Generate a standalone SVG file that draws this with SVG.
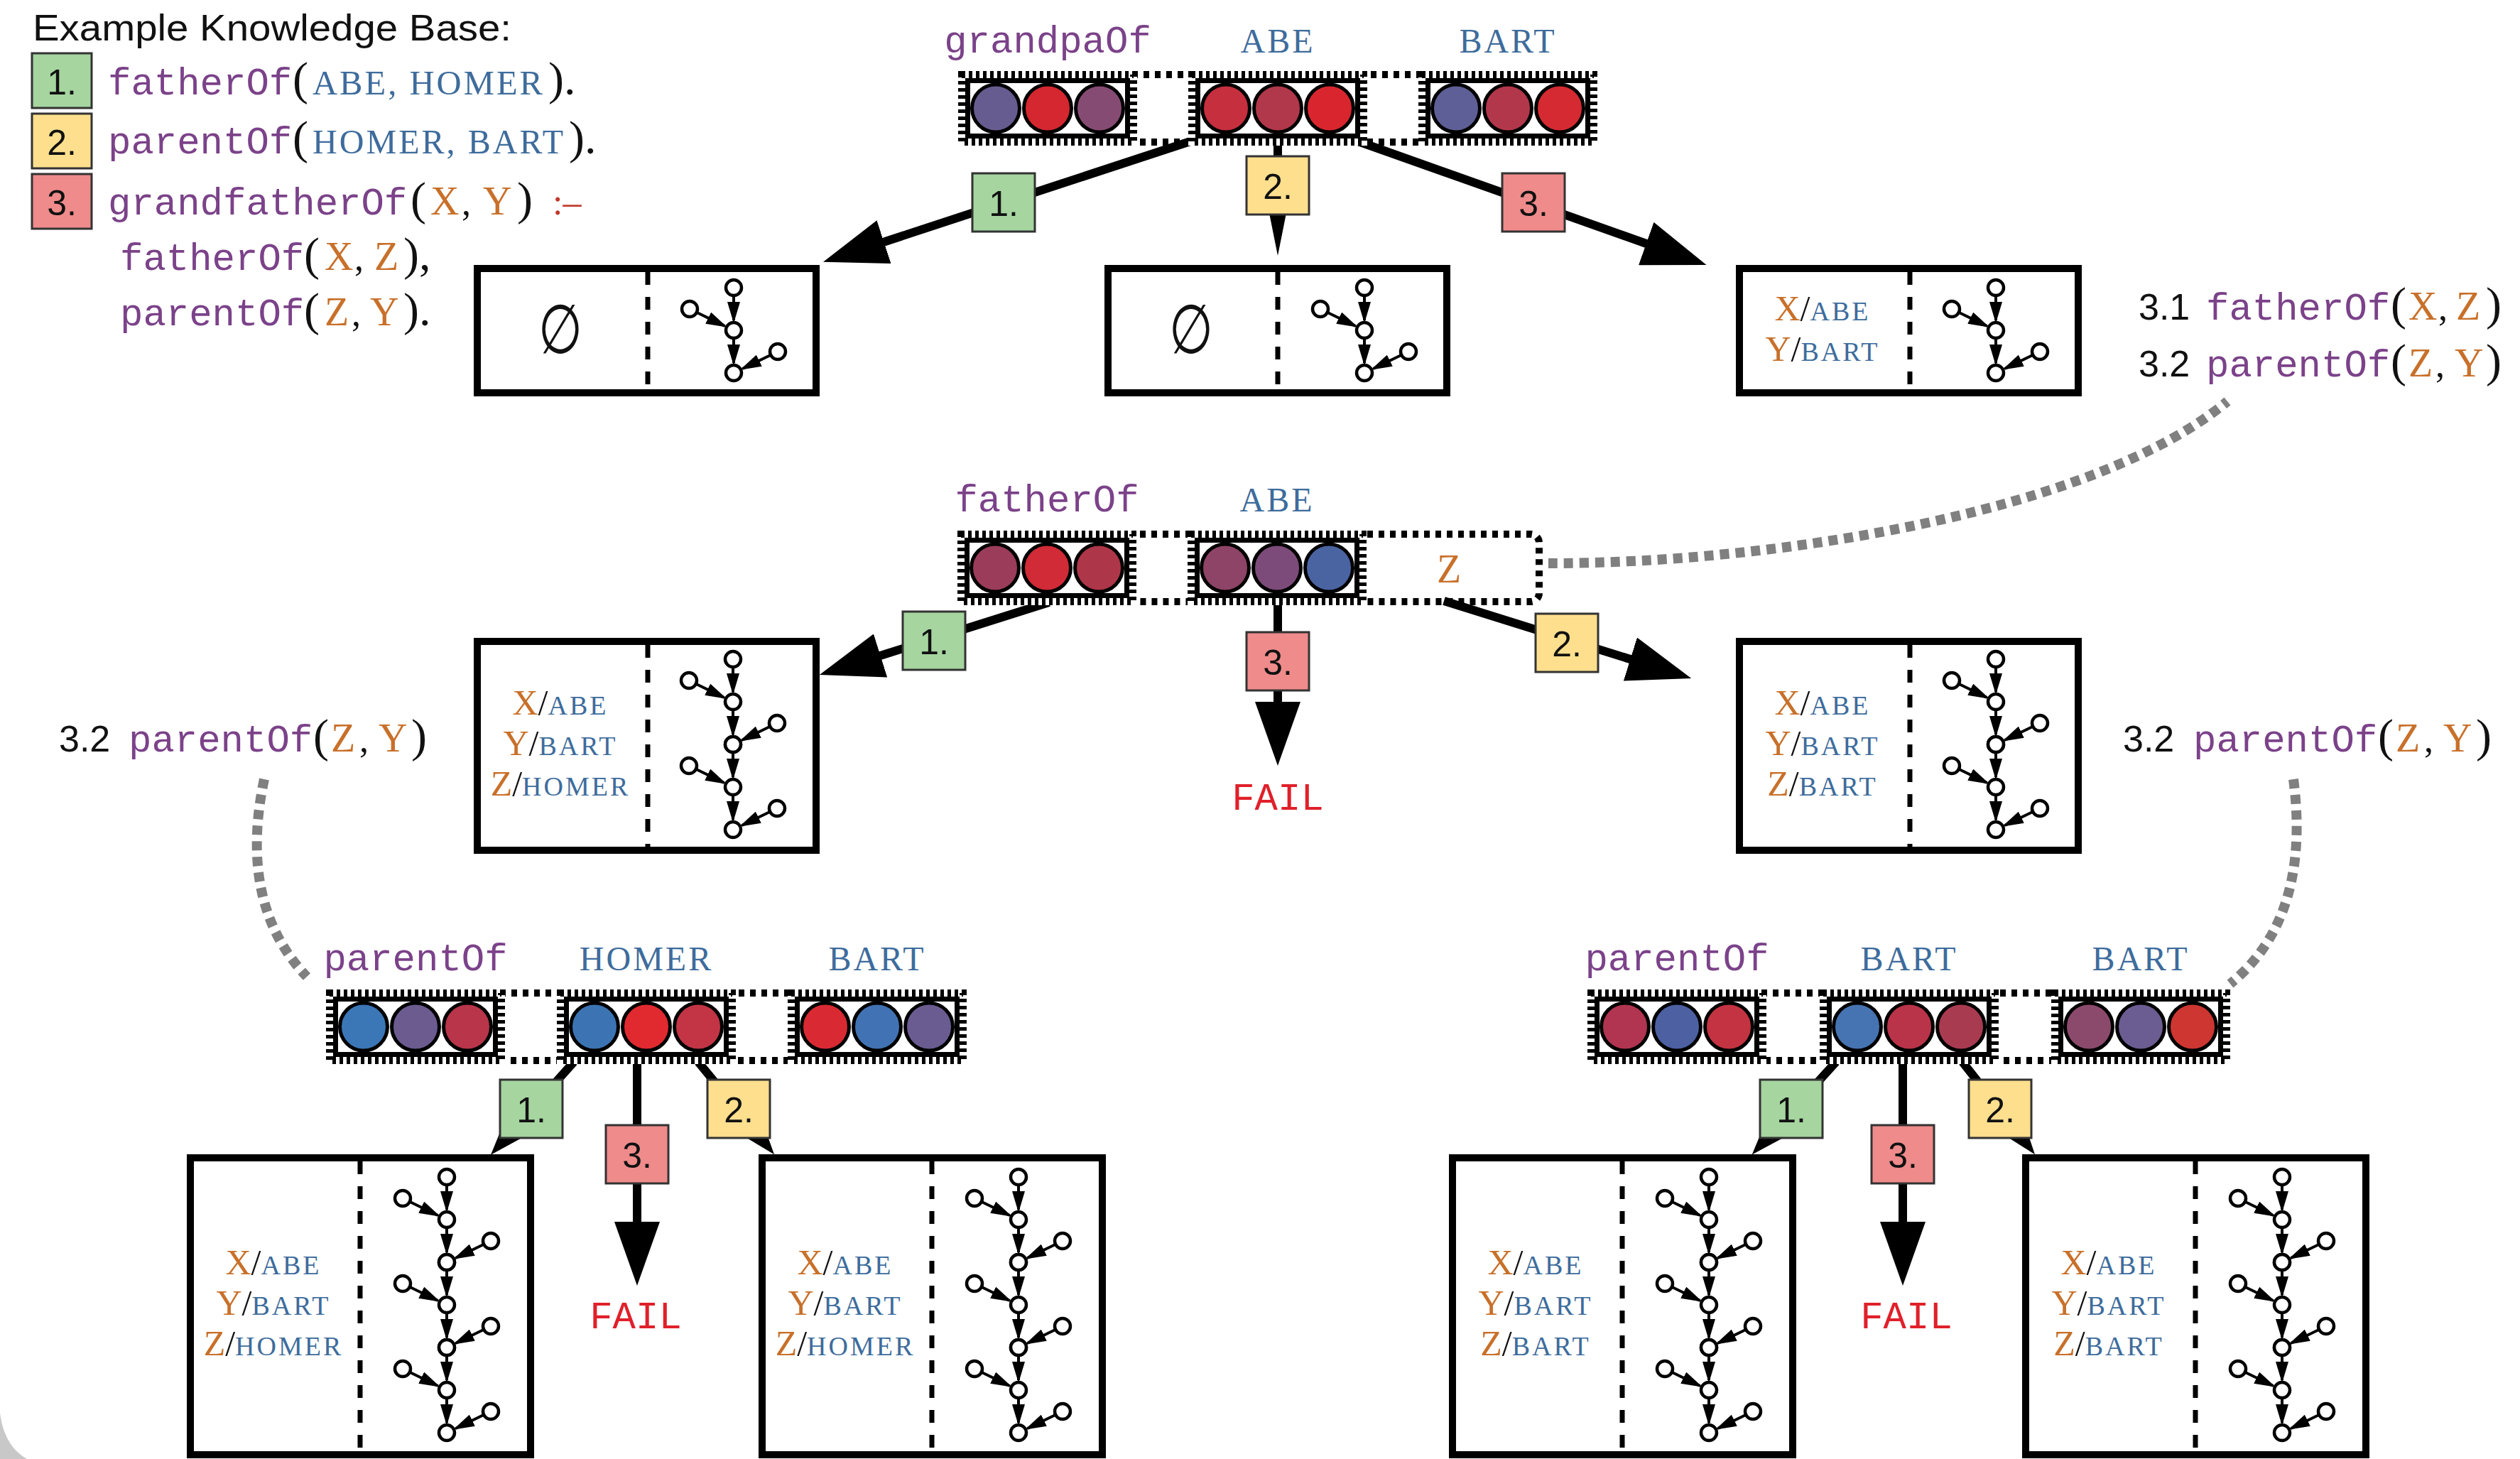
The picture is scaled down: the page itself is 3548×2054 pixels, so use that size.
<svg xmlns="http://www.w3.org/2000/svg" width="3548" height="2054" viewBox="0 0 3548 2054">
<style>
.mono{font-family:"Liberation Mono",monospace;font-size:54px;fill:#7b4289}
.monoc{font-family:"Liberation Mono",monospace;font-size:54px;fill:#7b4289;text-anchor:middle}
.sans{font-family:"Liberation Sans",sans-serif;font-size:52px;fill:#111}
.name{font-family:"Liberation Serif",serif;font-size:48px;fill:#3e6c9c;letter-spacing:3px}
.namec{font-family:"Liberation Serif",serif;font-size:48px;fill:#3e6c9c;letter-spacing:3px;text-anchor:middle}
.var{font-family:"Liberation Serif",serif;font-size:56px;fill:#c8702a}
.pun{font-family:"Liberation Serif",serif;font-size:52px;fill:#111}
.paren{font-family:"Liberation Serif",serif;font-size:66px;fill:#111}
.neck{font-family:"Liberation Serif",serif;font-size:52px;fill:#c0392b}
.fail{font-family:"Liberation Mono",monospace;font-size:54px;fill:#e0202a;text-anchor:middle}
.bind{font-family:"Liberation Serif",serif;text-anchor:middle}
.bv{font-size:50px;fill:#c8702a}
.bs{font-size:50px;fill:#111}
.bn{font-size:38px;fill:#3e6c9c;letter-spacing:3px}
.es{font-family:"DejaVu Sans",sans-serif;font-size:96px;fill:#111;text-anchor:middle}
.box{fill:#fff;stroke:#000;stroke-width:10}
.div{stroke:#000;stroke-width:7;stroke-dasharray:18 17}
.lb{stroke:#333;stroke-width:3}
.g{fill:#a6d5a0}.y{fill:#fddf8e}.r{fill:#ef8b8b}
.num{font-family:"Liberation Sans",sans-serif;font-size:50px;text-anchor:middle;fill:#111}
.arrow{stroke:#000;stroke-width:12;fill:none;marker-end:url(#ah)}
.line{stroke:#000;stroke-width:12;fill:none}
.dotted{stroke:#808080;stroke-width:14;stroke-dasharray:13 9;fill:none}
.outer{fill:none;stroke:#000;stroke-width:10;stroke-dasharray:8 8}
.tn{fill:#fff;stroke:#000;stroke-width:4.5}
.te{stroke:#000;stroke-width:4;marker-end:url(#th)}
.c{stroke:#000;stroke-width:5}
</style>
<defs>
<marker id="ah" viewBox="0 0 90 64" markerWidth="90" markerHeight="64" refX="30" refY="32" orient="auto" markerUnits="userSpaceOnUse"><path d="M0,0 L90,32 L0,64 Z" fill="#000"/></marker>
<marker id="th" viewBox="0 0 30 18" markerWidth="30" markerHeight="18" refX="26" refY="9" orient="auto" markerUnits="userSpaceOnUse"><path d="M0,0 L30,9 L0,18 Z" fill="#000"/></marker>
<g id="seg">
<rect x="0" y="0" width="252" height="105" fill="#fff"/>
<rect x="5" y="5" width="242" height="95" fill="none" stroke="#000" stroke-width="10" stroke-dasharray="5 5"/>
<rect x="13.5" y="13.5" width="225" height="78" fill="none" stroke="#000" stroke-width="7"/>
</g>
<g id="t2">
<line class="te" x1="0" y1="12" x2="0" y2="46"/>
<line class="te" x1="0" y1="72" x2="0" y2="106"/>
<line class="te" x1="-51.2" y1="35.2" x2="-12.5" y2="54"/>
<line class="te" x1="51.2" y1="95.2" x2="12.5" y2="114"/>
<circle class="tn" cx="0" cy="0" r="11"/>
<circle class="tn" cx="0" cy="60" r="11"/>
<circle class="tn" cx="0" cy="120" r="11"/>
<circle class="tn" cx="-62" cy="30" r="11"/>
<circle class="tn" cx="62" cy="90" r="11"/>
</g>
</defs>
<rect width="3548" height="2054" fill="#fff"/>
<path d="M0,1990 Q6,2036 38,2054 L0,2054 Z" fill="#c8c8c8"/>

<g id="legend">
<text class="sans" x="46" y="57" font-size="50" textLength="674" lengthAdjust="spacingAndGlyphs">Example Knowledge Base:</text>
<rect class="lb g" x="45" y="75" width="84" height="77"/><text class="num" x="87" y="133">1.</text>
<rect class="lb y" x="45" y="160" width="84" height="77"/><text class="num" x="87" y="218">2.</text>
<rect class="lb r" x="45" y="245" width="84" height="77"/><text class="num" x="87" y="303">3.</text>
<text class="mono" x="152" y="133">fatherOf</text><text class="paren" x="412" y="133">(</text><text class="name" x="440" y="133" textLength="327" lengthAdjust="spacingAndGlyphs">ABE, HOMER</text><text class="paren" x="772" y="133">).</text>
<text class="mono" x="152" y="216">parentOf</text><text class="paren" x="412" y="216">(</text><text class="name" x="440" y="216" textLength="356" lengthAdjust="spacingAndGlyphs">HOMER, BART</text><text class="paren" x="801" y="216">).</text>
<text class="mono" x="152" y="302">grandfatherOf</text><text class="paren" x="578" y="302">(</text><text class="var" x="606" y="302">X</text><text class="pun" x="650" y="302">,</text><text class="var" x="680" y="302">Y</text><text class="paren" x="728" y="302">)</text><text class="neck" x="778" y="302">:–</text>
<text class="mono" x="169" y="380">fatherOf</text><text class="paren" x="428" y="380">(</text><text class="var" x="457" y="380">X</text><text class="pun" x="499" y="380">,</text><text class="var" x="527" y="380">Z</text><text class="paren" x="568" y="380">),</text>
<text class="mono" x="169" y="458">parentOf</text><text class="paren" x="428" y="458">(</text><text class="var" x="457" y="458">Z</text><text class="pun" x="495" y="458">,</text><text class="var" x="521" y="458">Y</text><text class="paren" x="568" y="458">).</text>
</g>

<g id="subgoals-top">
<text class="sans" x="3011" y="450">3.1</text><text class="mono" x="3106" y="450">fatherOf</text><text class="paren" x="3366" y="450">(</text><text class="var" x="3391" y="450">X</text><text class="pun" x="3433" y="450">,</text><text class="var" x="3458" y="450">Z</text><text class="paren" x="3500" y="450">)</text>
<text class="sans" x="3011" y="530">3.2</text><text class="mono" x="3106" y="530">parentOf</text><text class="paren" x="3366" y="530">(</text><text class="var" x="3391" y="530">Z</text><text class="pun" x="3429" y="530">,</text><text class="var" x="3456" y="530">Y</text><text class="paren" x="3500" y="530">)</text>
</g>
<g id="subgoal-left">
<text class="sans" x="83" y="1058">3.2</text><text class="mono" x="181" y="1058">parentOf</text><text class="paren" x="441" y="1058">(</text><text class="var" x="466" y="1058">Z</text><text class="pun" x="506" y="1058">,</text><text class="var" x="533" y="1058">Y</text><text class="paren" x="579" y="1058">)</text>
</g>
<g id="subgoal-right">
<text class="sans" x="2989" y="1058">3.2</text><text class="mono" x="3088" y="1058">parentOf</text><text class="paren" x="3348" y="1058">(</text><text class="var" x="3373" y="1058">Z</text><text class="pun" x="3413" y="1058">,</text><text class="var" x="3440" y="1058">Y</text><text class="paren" x="3486" y="1058">)</text>
</g>

<g id="connectors">
<path class="dotted" d="M2180,793 C2500,793 2950,720 3136,565"/>
<path class="dotted" d="M372,1097 C350,1200 360,1300 432,1375"/>
<path class="dotted" d="M3229,1097 C3245,1220 3220,1320 3140,1385"/>
<line class="arrow" x1="1676" y1="199" x2="1216" y2="350"/>
<line class="line" x1="1799" y1="200" x2="1799" y2="300"/>
<polygon points="1785,290 1813,290 1799,360" fill="#000"/>
<line class="arrow" x1="1912" y1="199" x2="2346" y2="353"/>
<line class="arrow" x1="1477" y1="848" x2="1211" y2="932"/>
<line class="arrow" x1="1799" y1="850" x2="1799" y2="1018"/>
<line class="arrow" x1="2033" y1="846" x2="2324" y2="937"/>
<line class="arrow" x1="808" y1="1495" x2="731" y2="1581"/>
<line class="arrow" x1="897" y1="1495" x2="897" y2="1750"/>
<line class="arrow" x1="983" y1="1495" x2="1052" y2="1579"/>
<line class="arrow" x1="2585" y1="1495" x2="2507" y2="1581"/>
<line class="arrow" x1="2679" y1="1495" x2="2679" y2="1750"/>
<line class="arrow" x1="2763" y1="1495" x2="2828" y2="1578"/>
<rect class="lb g" x="1369" y="244" width="88" height="82"/><text class="num" x="1413" y="304">1.</text>
<rect class="lb y" x="1755" y="220" width="88" height="82"/><text class="num" x="1799" y="280">2.</text>
<rect class="lb r" x="2115" y="244" width="88" height="82"/><text class="num" x="2159" y="304">3.</text>
<rect class="lb g" x="1271" y="861" width="88" height="82"/><text class="num" x="1315" y="921">1.</text>
<rect class="lb r" x="1755" y="890" width="88" height="82"/><text class="num" x="1799" y="950">3.</text>
<rect class="lb y" x="2162" y="864" width="88" height="82"/><text class="num" x="2206" y="924">2.</text>
<rect class="lb g" x="704" y="1520" width="88" height="82"/><text class="num" x="748" y="1580">1.</text>
<rect class="lb r" x="853" y="1584" width="88" height="82"/><text class="num" x="897" y="1644">3.</text>
<rect class="lb y" x="996" y="1520" width="88" height="82"/><text class="num" x="1040" y="1580">2.</text>
<rect class="lb g" x="2478" y="1520" width="88" height="82"/><text class="num" x="2522" y="1580">1.</text>
<rect class="lb r" x="2635" y="1584" width="88" height="82"/><text class="num" x="2679" y="1644">3.</text>
<rect class="lb y" x="2772" y="1520" width="88" height="82"/><text class="num" x="2816" y="1580">2.</text>
</g>

<g id="goal-grandpaOf">
<rect class="outer" x="1354" y="105" width="890" height="95"/>
<use href="#seg" x="1349" y="100"/><use href="#seg" x="1673" y="100"/><use href="#seg" x="1997" y="100"/>
<circle class="c" cx="1402" cy="152.5" r="33.5" fill="#675c8f"/><circle class="c" cx="1475" cy="152.5" r="33.5" fill="#d4272f"/><circle class="c" cx="1548" cy="152.5" r="33.5" fill="#864b73"/>
<circle class="c" cx="1726" cy="152.5" r="33.5" fill="#c52f3e"/><circle class="c" cx="1799" cy="152.5" r="33.5" fill="#b0384a"/><circle class="c" cx="1872" cy="152.5" r="33.5" fill="#d9262e"/>
<circle class="c" cx="2050" cy="152.5" r="33.5" fill="#5e5f96"/><circle class="c" cx="2123" cy="152.5" r="33.5" fill="#b3374b"/><circle class="c" cx="2196" cy="152.5" r="33.5" fill="#d52a31"/>
<text class="monoc" x="1475" y="74">grandpaOf</text><text class="namec" x="1799" y="74">ABE</text><text class="namec" x="2123" y="74">BART</text>
</g>

<g id="goal-fatherOf">
<rect class="outer" x="1353" y="752" width="814" height="95" rx="12"/>
<use href="#seg" x="1348" y="747"/><use href="#seg" x="1672" y="747"/>
<circle class="c" cx="1401" cy="799.5" r="33.5" fill="#9a3c5a"/><circle class="c" cx="1474" cy="799.5" r="33.5" fill="#d02b36"/><circle class="c" cx="1547" cy="799.5" r="33.5" fill="#ad3649"/>
<circle class="c" cx="1725" cy="799.5" r="33.5" fill="#8e4466"/><circle class="c" cx="1798" cy="799.5" r="33.5" fill="#7d4b7a"/><circle class="c" cx="1871" cy="799.5" r="33.5" fill="#4a64a1"/>
<text class="monoc" x="1474" y="720">fatherOf</text><text class="namec" x="1798" y="720">ABE</text>
<text class="var" x="2040" y="820" text-anchor="middle">Z</text>
</g>

<g id="goal-parentOf-left">
<rect class="outer" x="464" y="1398" width="892" height="95"/>
<use href="#seg" x="459" y="1393"/><use href="#seg" x="784" y="1393"/><use href="#seg" x="1109" y="1393"/>
<circle class="c" cx="512" cy="1445.5" r="33.5" fill="#3b77b6"/><circle class="c" cx="585" cy="1445.5" r="33.5" fill="#6b5b8f"/><circle class="c" cx="658" cy="1445.5" r="33.5" fill="#b8354a"/>
<circle class="c" cx="837" cy="1445.5" r="33.5" fill="#3c74b3"/><circle class="c" cx="910" cy="1445.5" r="33.5" fill="#e12a30"/><circle class="c" cx="983" cy="1445.5" r="33.5" fill="#c33545"/>
<circle class="c" cx="1162" cy="1445.5" r="33.5" fill="#d92a33"/><circle class="c" cx="1235" cy="1445.5" r="33.5" fill="#4173b4"/><circle class="c" cx="1308" cy="1445.5" r="33.5" fill="#6a5c91"/>
<text class="monoc" x="585" y="1366">parentOf</text><text class="namec" x="910" y="1366">HOMER</text><text class="namec" x="1235" y="1366">BART</text>
</g>

<g id="goal-parentOf-right">
<rect class="outer" x="2240" y="1398" width="895" height="95"/>
<use href="#seg" x="2235" y="1393"/><use href="#seg" x="2562" y="1393"/><use href="#seg" x="2888" y="1393"/>
<circle class="c" cx="2288" cy="1445.5" r="33.5" fill="#b13550"/><circle class="c" cx="2361" cy="1445.5" r="33.5" fill="#4c60a2"/><circle class="c" cx="2434" cy="1445.5" r="33.5" fill="#c33341"/>
<circle class="c" cx="2615" cy="1445.5" r="33.5" fill="#4673b1"/><circle class="c" cx="2688" cy="1445.5" r="33.5" fill="#b93449"/><circle class="c" cx="2761" cy="1445.5" r="33.5" fill="#a93b51"/>
<circle class="c" cx="2941" cy="1445.5" r="33.5" fill="#8b4a6c"/><circle class="c" cx="3014" cy="1445.5" r="33.5" fill="#6b5c91"/><circle class="c" cx="3087" cy="1445.5" r="33.5" fill="#cd3631"/>
<text class="monoc" x="2361" y="1366">parentOf</text><text class="namec" x="2688" y="1366">BART</text><text class="namec" x="3014" y="1366">BART</text>
</g>

<g id="state-1a">
<rect class="box" x="672" y="378" width="477" height="175"/><line class="div" x1="912" y1="383" x2="912" y2="553"/>
<text class="es" x="789" y="497" textLength="62" lengthAdjust="spacingAndGlyphs">∅</text>
<use href="#t2" x="1033" y="405"/>
</g>
<g id="state-1b">
<rect class="box" x="1560" y="378" width="477" height="175"/><line class="div" x1="1799" y1="383" x2="1799" y2="553"/>
<text class="es" x="1677" y="497" textLength="62" lengthAdjust="spacingAndGlyphs">∅</text>
<use href="#t2" x="1921" y="405"/>
</g>
<g id="state-1c">
<rect class="box" x="2449" y="378" width="477" height="175"/><line class="div" x1="2689" y1="383" x2="2689" y2="553"/>
<text class="bind" x="2566" y="451"><tspan class="bv">X</tspan><tspan class="bs">/</tspan><tspan class="bn">ABE</tspan></text>
<text class="bind" x="2566" y="508"><tspan class="bv">Y</tspan><tspan class="bs">/</tspan><tspan class="bn">BART</tspan></text>
<use href="#t2" x="2810" y="405"/>
</g>

<g id="state-2a">
<rect class="box" x="672" y="903" width="477" height="294"/><line class="div" x1="912" y1="908" x2="912" y2="1197"/>
<text class="bind" x="789" y="1006"><tspan class="bv">X</tspan><tspan class="bs">/</tspan><tspan class="bn">ABE</tspan></text>
<text class="bind" x="789" y="1063"><tspan class="bv">Y</tspan><tspan class="bs">/</tspan><tspan class="bn">BART</tspan></text>
<text class="bind" x="789" y="1120"><tspan class="bv">Z</tspan><tspan class="bs">/</tspan><tspan class="bn">HOMER</tspan></text>
<use href="#t2" x="1032" y="928"/><use href="#t2" x="1032" y="1048"/>
</g>
<g id="fail-mid">
<text class="fail" x="1799" y="1140">FAIL</text>
</g>
<g id="state-2b">
<rect class="box" x="2449" y="903" width="477" height="294"/><line class="div" x1="2689" y1="908" x2="2689" y2="1197"/>
<text class="bind" x="2566" y="1006"><tspan class="bv">X</tspan><tspan class="bs">/</tspan><tspan class="bn">ABE</tspan></text>
<text class="bind" x="2566" y="1063"><tspan class="bv">Y</tspan><tspan class="bs">/</tspan><tspan class="bn">BART</tspan></text>
<text class="bind" x="2566" y="1120"><tspan class="bv">Z</tspan><tspan class="bs">/</tspan><tspan class="bn">BART</tspan></text>
<use href="#t2" x="2810" y="928"/><use href="#t2" x="2810" y="1048"/>
</g>

<g id="state-3a">
<rect class="box" x="268" y="1630" width="479" height="418"/><line class="div" x1="507" y1="1635" x2="507" y2="2048"/>
<text class="bind" x="385" y="1794"><tspan class="bv">X</tspan><tspan class="bs">/</tspan><tspan class="bn">ABE</tspan></text>
<text class="bind" x="385" y="1851"><tspan class="bv">Y</tspan><tspan class="bs">/</tspan><tspan class="bn">BART</tspan></text>
<text class="bind" x="385" y="1908"><tspan class="bv">Z</tspan><tspan class="bs">/</tspan><tspan class="bn">HOMER</tspan></text>
<use href="#t2" x="629" y="1657"/><use href="#t2" x="629" y="1777"/><use href="#t2" x="629" y="1897"/>
</g>
<g id="fail-left">
<text class="fail" x="895" y="1870">FAIL</text>
</g>
<g id="state-3b">
<rect class="box" x="1073" y="1630" width="479" height="418"/><line class="div" x1="1312" y1="1635" x2="1312" y2="2048"/>
<text class="bind" x="1190" y="1794"><tspan class="bv">X</tspan><tspan class="bs">/</tspan><tspan class="bn">ABE</tspan></text>
<text class="bind" x="1190" y="1851"><tspan class="bv">Y</tspan><tspan class="bs">/</tspan><tspan class="bn">BART</tspan></text>
<text class="bind" x="1190" y="1908"><tspan class="bv">Z</tspan><tspan class="bs">/</tspan><tspan class="bn">HOMER</tspan></text>
<use href="#t2" x="1434" y="1657"/><use href="#t2" x="1434" y="1777"/><use href="#t2" x="1434" y="1897"/>
</g>
<g id="state-3c">
<rect class="box" x="2045" y="1630" width="479" height="418"/><line class="div" x1="2284" y1="1635" x2="2284" y2="2048"/>
<text class="bind" x="2162" y="1794"><tspan class="bv">X</tspan><tspan class="bs">/</tspan><tspan class="bn">ABE</tspan></text>
<text class="bind" x="2162" y="1851"><tspan class="bv">Y</tspan><tspan class="bs">/</tspan><tspan class="bn">BART</tspan></text>
<text class="bind" x="2162" y="1908"><tspan class="bv">Z</tspan><tspan class="bs">/</tspan><tspan class="bn">BART</tspan></text>
<use href="#t2" x="2406" y="1657"/><use href="#t2" x="2406" y="1777"/><use href="#t2" x="2406" y="1897"/>
</g>
<g id="fail-right">
<text class="fail" x="2684" y="1870">FAIL</text>
</g>
<g id="state-3d">
<rect class="box" x="2852" y="1630" width="479" height="418"/><line class="div" x1="3091" y1="1635" x2="3091" y2="2048"/>
<text class="bind" x="2969" y="1794"><tspan class="bv">X</tspan><tspan class="bs">/</tspan><tspan class="bn">ABE</tspan></text>
<text class="bind" x="2969" y="1851"><tspan class="bv">Y</tspan><tspan class="bs">/</tspan><tspan class="bn">BART</tspan></text>
<text class="bind" x="2969" y="1908"><tspan class="bv">Z</tspan><tspan class="bs">/</tspan><tspan class="bn">BART</tspan></text>
<use href="#t2" x="3213" y="1657"/><use href="#t2" x="3213" y="1777"/><use href="#t2" x="3213" y="1897"/>
</g>
</svg>
